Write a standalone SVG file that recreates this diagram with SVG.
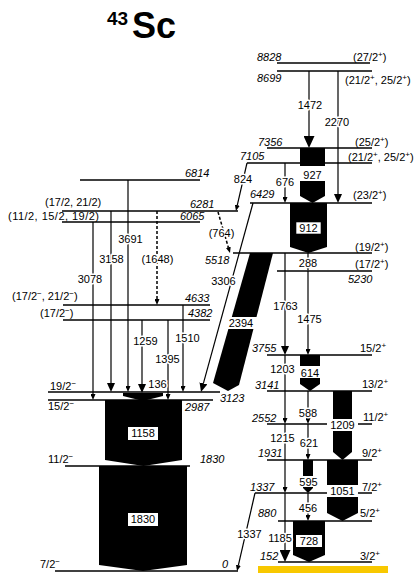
<svg xmlns="http://www.w3.org/2000/svg" width="415" height="573" viewBox="0 0 415 573">
<style>
text{font-family:"Liberation Sans",Arial,Helvetica,sans-serif;font-size:11px;fill:#000}
.e{font-style:italic}
.c{text-anchor:middle}
.h{paint-order:stroke;stroke:#fff;stroke-width:3px;stroke-linejoin:round}
.lv{stroke:#000;stroke-width:1.5;fill:none}
.tr{stroke:#000;stroke-width:1.2;fill:none}
.d{stroke-dasharray:3 2;stroke-width:1.5}
.blk{fill:#000}
.lb{fill:#fff}
.s{font-size:8px}
.t1{font-size:19px;font-weight:bold}
.t2{font-size:36px;font-weight:bold}
</style>
<defs>
<marker id="a" markerUnits="userSpaceOnUse" viewBox="0 0 6 5" markerWidth="6" markerHeight="5" refX="0" refY="2.5" orient="auto"><path d="M0,0L6,2.5L0,5z"/></marker>
<marker id="b" markerUnits="userSpaceOnUse" viewBox="0 0 9 8" markerWidth="9" markerHeight="8" refX="0" refY="4" orient="auto"><path d="M0,0L9,4L0,8z"/></marker>
<marker id="c" markerUnits="userSpaceOnUse" viewBox="0 0 12 11" markerWidth="12" markerHeight="11" refX="0" refY="5.5" orient="auto"><path d="M0,0L12,5.5L0,11z"/></marker>
</defs>
<rect id="ground" x="258" y="566" width="130" height="7" fill="#F8C800"/>

<g id="L8828"><line class="lv" x1="277" y1="63" x2="370" y2="63"/><text class="e" x="257" y="61">8828</text><text x="353" y="61">(27/2<tspan class="s" dy="-4">+</tspan><tspan dy="4">)</tspan></text></g>
<g id="L8699"><line class="lv" x1="277" y1="71" x2="372" y2="71"/><text class="e" x="257" y="82">8699</text><text x="345" y="84">(21/2<tspan class="s" dy="-4">+</tspan><tspan dy="4">, 25/2</tspan><tspan class="s" dy="-4">+</tspan><tspan dy="4">)</tspan></text></g>
<g id="L7356"><line class="lv" x1="267" y1="148" x2="372" y2="148"/><text class="e" x="258" y="146">7356</text><text x="355" y="146">(25/2<tspan class="s" dy="-4">+</tspan><tspan dy="4">)</tspan></text></g>
<g id="L7105"><line class="lv" x1="247" y1="163" x2="372" y2="163"/><text class="e" x="240" y="160">7105</text><text x="348" y="161">(21/2<tspan class="s" dy="-4">+</tspan><tspan dy="4">, 25/2</tspan><tspan class="s" dy="-4">+</tspan><tspan dy="4">)</tspan></text></g>
<g id="L6429"><line class="lv" x1="250" y1="203" x2="372" y2="203"/><text class="e" x="250" y="198">6429</text><text x="353" y="199">(23/2<tspan class="s" dy="-4">+</tspan><tspan dy="4">)</tspan></text></g>
<g id="L5518"><line class="lv" x1="233" y1="253" x2="372" y2="253"/><text class="e" x="205" y="264">5518</text><text x="355" y="251">(19/2<tspan class="s" dy="-4">+</tspan><tspan dy="4">)</tspan></text></g>
<g id="L5230"><line class="lv" x1="277" y1="271" x2="372" y2="271"/><text class="e" x="348" y="283">5230</text><text x="355" y="268">(17/2<tspan class="s" dy="-4">+</tspan><tspan dy="4">)</tspan></text></g>
<g id="L3755"><line class="lv" x1="267" y1="355" x2="372" y2="355"/><text class="e" x="252" y="352">3755</text><text x="360" y="352">15/2<tspan class="s" dy="-4">+</tspan></text></g>
<g id="L3141"><line class="lv" x1="267" y1="391" x2="372" y2="391"/><text class="e" x="255" y="389">3141</text><text x="362" y="388">13/2<tspan class="s" dy="-4">+</tspan></text></g>
<g id="L2552"><line class="lv" x1="267" y1="424" x2="372" y2="424"/><text class="e" x="252" y="422">2552</text><text x="363" y="421">11/2<tspan class="s" dy="-4">+</tspan></text></g>
<g id="L1931"><line class="lv" x1="267" y1="460" x2="372" y2="460"/><text class="e" x="258" y="457">1931</text><text x="362" y="457">9/2<tspan class="s" dy="-4">+</tspan></text></g>
<g id="L1337"><line class="lv" x1="255" y1="493" x2="372" y2="493"/><text class="e" x="250" y="491">1337</text><text x="362" y="491">7/2<tspan class="s" dy="-4">+</tspan></text></g>
<g id="L880"><line class="lv" x1="278" y1="521" x2="372" y2="521"/><text class="e" x="258" y="517">880</text><text x="360" y="517">5/2<tspan class="s" dy="-4">+</tspan></text></g>
<g id="L152"><line class="lv" x1="278" y1="562" x2="372" y2="562"/><text class="e" x="260" y="560">152</text><text x="360" y="560">3/2<tspan class="s" dy="-4">+</tspan></text></g>

<g id="L6814"><line class="lv" x1="80" y1="180" x2="200" y2="180"/><text class="e" x="185" y="177">6814</text></g>
<g id="L6281"><line class="lv" x1="62" y1="211" x2="238" y2="211"/><text class="e" x="190" y="208">6281</text><text x="45" y="206">(17/2, 21/2)</text></g>
<g id="L6065"><line class="lv" x1="62" y1="222" x2="200" y2="222"/><text class="e" x="180" y="220">6065</text><text x="8" y="220" textLength="91">(11/2, 15/2, 19/2)</text></g>
<g id="L4633"><line class="lv" x1="63" y1="305" x2="210" y2="305"/><text class="e" x="185" y="302">4633</text><text x="12" y="300">(17/2<tspan class="s" dy="-4">−</tspan><tspan dy="4">, 21/2</tspan><tspan class="s" dy="-4">−</tspan><tspan dy="4">)</tspan></text></g>
<g id="L4382"><line class="lv" x1="63" y1="320" x2="210" y2="320"/><text class="e" x="188" y="317">4382</text><text x="40" y="317">(17/2<tspan class="s" dy="-4">−</tspan><tspan dy="4">)</tspan></text></g>
<g id="L3123"><line class="lv" x1="48" y1="392" x2="220" y2="392"/><text class="e" x="220" y="402">3123</text><text x="50" y="390">19/2<tspan class="s" dy="-4">−</tspan></text></g>
<g id="L2987"><line class="lv" x1="48" y1="400" x2="213" y2="400"/><text class="e" x="185" y="411">2987</text><text x="48" y="410">15/2<tspan class="s" dy="-4">−</tspan></text></g>
<g id="L1830"><line class="lv" x1="65" y1="466" x2="190" y2="466"/><text class="e" x="200" y="463">1830</text><text x="48" y="463">11/2<tspan class="s" dy="-4">−</tspan></text></g>
<g id="L0"><line class="lv" x1="55" y1="571" x2="238" y2="571" stroke-width="2"/><text class="e" x="222" y="568">0</text><text x="40" y="568">7/2<tspan class="s" dy="-4">−</tspan></text></g>

<g id="connectors">
<line class="tr" x1="309" y1="71" x2="309" y2="136" stroke-width="6" marker-end="url(#c)"/>
<line class="tr" x1="338" y1="71" x2="338" y2="194" stroke-width="3.5" marker-end="url(#b)"/>
<path class="blk" d="M300,148H325V196L312.5,203L300,196Z"/>
<rect class="lb" x="299" y="166" width="27" height="15"/>
<line class="tr" x1="285" y1="163" x2="285" y2="197" marker-end="url(#a)"/>
<path class="blk" d="M290,203H327V247L308.5,253L290,247Z"/>
<rect class="lb" x="296" y="222" width="25" height="12" stroke="#000" stroke-width="0.6"/>
<line class="tr" x1="247" y1="163" x2="237.3" y2="205.1" marker-end="url(#a)"/>
<line class="tr d" x1="218" y1="212" x2="228.3" y2="247.2" marker-end="url(#a)"/>
<line class="tr" x1="253" y1="203" x2="203.4" y2="383.3" stroke-width="4" marker-end="url(#b)"/>
<path class="blk" d="M250,253L273,253L239,385L228,391L213,383Z"/>
<rect class="lb" x="226" y="317" width="32" height="12"/>
<line class="tr" x1="308" y1="253" x2="308" y2="265" marker-end="url(#a)"/>
<line class="tr" x1="285" y1="253" x2="285" y2="346" stroke-width="4" marker-end="url(#b)"/>
<line class="tr" x1="308" y1="271" x2="308" y2="349" marker-end="url(#a)"/>
<path class="blk" d="M300,355H320V384L310,391L300,384Z"/>
<rect class="lb" x="298" y="366" width="24" height="12"/>
<line class="tr" x1="285" y1="355" x2="285" y2="418" stroke-width="2" marker-end="url(#a)"/>
<line class="tr" x1="308" y1="391" x2="308" y2="418" marker-end="url(#a)"/>
<path class="blk" d="M333,391H352V452L342.5,460L333,452Z"/>
<rect class="lb" x="327" y="419" width="31" height="12"/>
<line class="tr" x1="308" y1="424" x2="308" y2="454" marker-end="url(#a)"/>
<line class="tr" x1="285" y1="424" x2="285" y2="487" stroke-width="2" marker-end="url(#a)"/>
<path class="blk" d="M303,460H313V488L308,493L303,488Z"/>
<rect class="lb" x="299" y="476" width="19" height="11"/>
<path class="blk" d="M327,460H358V513L342.5,521L327,513Z"/>
<rect class="lb" x="327" y="485" width="31" height="12"/>
<line class="tr" x1="308" y1="493" x2="308" y2="515" marker-end="url(#a)"/>
<line class="tr" x1="285" y1="493" x2="285" y2="550" stroke-width="6" marker-end="url(#c)"/>
<path class="blk" d="M293,521H325V555L309,562L293,555Z"/>
<rect class="lb" x="296" y="535" width="26" height="12"/>
<line class="tr" x1="255" y1="493" x2="238.4" y2="565.2" marker-end="url(#a)"/>

<line class="tr" x1="128" y1="180" x2="128" y2="386" marker-end="url(#a)"/>
<line class="tr" x1="111" y1="211" x2="111" y2="383" stroke-width="4" marker-end="url(#b)"/>
<line class="tr d" x1="157" y1="211" x2="157" y2="299" marker-end="url(#a)"/>
<line class="tr" x1="93" y1="222" x2="93" y2="394" marker-end="url(#a)"/>
<line class="tr" x1="142" y1="320" x2="142" y2="384" stroke-width="3" marker-end="url(#b)"/>
<line class="tr" x1="168" y1="320" x2="168" y2="394" marker-end="url(#a)"/>
<line class="tr" x1="183" y1="305" x2="183" y2="386" marker-end="url(#a)"/>
<path class="blk" d="M123,393H163V396L143,401L123,396Z"/>
<path class="blk" d="M105,400H182V460L143.5,466L105,460Z"/>
<rect class="lb" x="128" y="427" width="30" height="13"/>
<path class="blk" d="M99,466H187V565L143,571L99,565Z"/>
<rect class="lb" x="128" y="513" width="30" height="13"/>

<text class="c h" x="310" y="109">1472</text>
<text class="c h" x="337" y="126">2270</text>
<text class="c" x="312.5" y="179">927</text>
<text class="c h" x="285" y="186">676</text>
<text class="c" x="308.5" y="232">912</text>
<text class="c h" x="243" y="183">824</text>
<text class="c h" x="221.5" y="237">(764)</text>
<text class="c h" x="223.5" y="285">3306</text>
<text class="c" x="241" y="327">2394</text>
<text class="c h" x="308" y="267">288</text>
<text class="c h" x="285.5" y="310">1763</text>
<text class="c h" x="309.5" y="323">1475</text>
<text class="c h" x="282.5" y="373">1203</text>
<text class="c" x="310" y="377">614</text>
<text class="c h" x="308" y="417">588</text>
<text class="c" x="342.5" y="429">1209</text>
<text class="c h" x="282.5" y="442">1215</text>
<text class="c h" x="309" y="447">621</text>
<text class="c" x="308.5" y="486">595</text>
<text class="c" x="342.5" y="495">1051</text>
<text class="c h" x="308" y="512">456</text>
<text class="c h" x="280" y="542">1185</text>
<text class="c" x="309" y="545">728</text>
<text class="c h" x="249.5" y="538">1337</text>
<text class="c h" x="130.5" y="243">3691</text>
<text class="c h" x="111.5" y="263">3158</text>
<text class="c h" x="157.5" y="263">(1648)</text>
<text class="c h" x="90" y="283">3078</text>
<text class="c h" x="145.5" y="345">1259</text>
<text class="c h" x="187.5" y="342">1510</text>
<text class="c h" x="167.5" y="363">1395</text>
<text class="c h" x="157.5" y="388">136</text>
<text class="c" x="143" y="437">1158</text>
<text class="c" x="143" y="523">1830</text>
</g>
<g id="title"><text class="t1" x="107" y="25">43</text><text class="t2" x="132" y="38">Sc</text></g>
</svg>
